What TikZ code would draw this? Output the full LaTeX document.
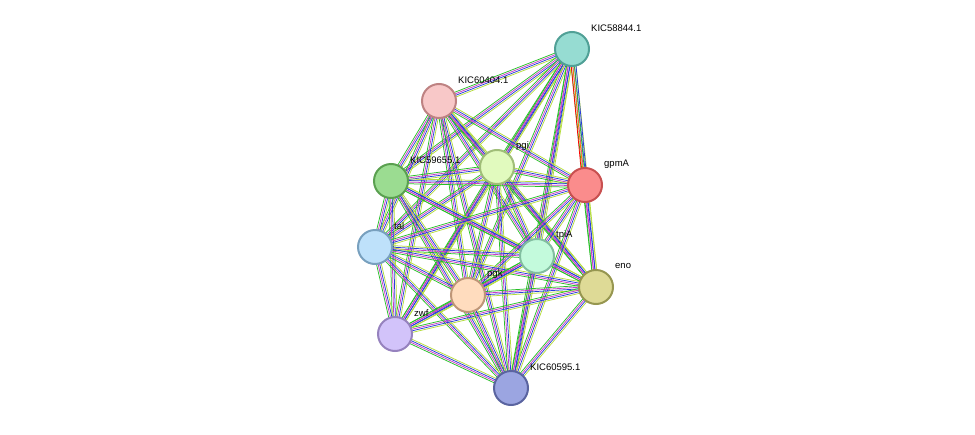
\documentclass[tikz,border=0pt]{standalone}
\usepackage{fontspec}
\setmainfont{Liberation Sans}
\usetikzlibrary{calc,backgrounds}
\definecolor{ygreen}{RGB}{180,220,60}
\definecolor{sgreen}{RGB}{40,190,40}
\definecolor{sblue}{RGB}{40,60,220}
\definecolor{smag}{RGB}{200,60,200}
\definecolor{scyan}{RGB}{60,190,210}
\tikzset{
  prot/.style={circle, minimum size=34pt, line width=2pt, inner sep=0pt},
  lab/.style={font=\fontsize{9.5}{9.5}\selectfont, inner sep=1pt},
  link/.style={line width=0.75pt}
}
\newcommand{\edge}[3]{%
  \foreach \c [count=\i] in {#3}
    \draw[link, \c] ($(#1)!{(\i-2.5)*1.6pt}!90:(#2)$) -- ($(#2)!{(\i-2.5)*1.6pt}!-90:(#1)$);
}
\begin{document}
\begin{tikzpicture}[x=1pt,y=-1pt]
\useasboundingbox (0,0) rectangle (975,434);
% proteins
\node[prot, fill={rgb,255:red,150;green,220;blue,210}, draw={rgb,255:red,80;green,160;blue,150}] (kic58844) at (572,49) {};
\node[prot, fill={rgb,255:red,248;green,200;blue,200}, draw={rgb,255:red,190;green,130;blue,130}] (kic60404) at (439,101) {};
\node[prot, fill={rgb,255:red,225;green,250;blue,190}, draw={rgb,255:red,160;green,190;blue,120}] (pgi) at (497,167) {};
\node[prot, fill={rgb,255:red,155;green,220;blue,145}, draw={rgb,255:red,90;green,160;blue,80}] (kic59655) at (391,181) {};
\node[prot, fill={rgb,255:red,250;green,140;blue,140}, draw={rgb,255:red,200;green,80;blue,80}] (gpmA) at (585,185) {};
\node[prot, fill={rgb,255:red,190;green,225;blue,250}, draw={rgb,255:red,120;green,160;blue,190}] (tal) at (375,247) {};
\node[prot, fill={rgb,255:red,195;green,250;blue,220}, draw={rgb,255:red,130;green,190;blue,160}] (tpiA) at (537,256) {};
\node[prot, fill={rgb,255:red,222;green,218;blue,150}, draw={rgb,255:red,150;green,150;blue,80}] (eno) at (596,287) {};
\node[prot, fill={rgb,255:red,255;green,220;blue,190}, draw={rgb,255:red,190;green,150;blue,120}] (pgk) at (468,295) {};
\node[prot, fill={rgb,255:red,210;green,195;blue,250}, draw={rgb,255:red,150;green,130;blue,190}] (zwf) at (395,334) {};
\node[prot, fill={rgb,255:red,155;green,165;blue,225}, draw={rgb,255:red,90;green,100;blue,160}] (kic60595) at (511,388) {};
% labels
\node[lab, anchor=west] at (590,28) {KIC58844.1};
\node[lab, anchor=west] at (457,80) {KIC60404.1};
\node[lab, anchor=west] at (515,146) {pgi};
\node[lab, anchor=west] at (409,160) {KIC59655.1};
\node[lab, anchor=west] at (603,164) {gpmA};
\node[lab, anchor=west] at (393,226) {tal};
\node[lab, anchor=west] at (555,235) {tpiA};
\node[lab, anchor=west] at (614,266) {eno};
\node[lab, anchor=west] at (486,274) {pgk};
\node[lab, anchor=west] at (413,313) {zwf};
\node[lab, anchor=west] at (529,367) {KIC60595.1};
% links
\begin{scope}[on background layer]
\foreach \a/\b in {kic58844/kic60404,kic58844/pgi,kic58844/kic59655,kic58844/tal,kic58844/tpiA,kic58844/eno,kic58844/pgk,kic58844/zwf,kic58844/kic60595,
  kic60404/pgi,kic60404/kic59655,kic60404/gpmA,kic60404/tal,kic60404/tpiA,kic60404/eno,kic60404/pgk,kic60404/zwf,kic60404/kic60595,
  pgi/kic59655,pgi/gpmA,pgi/tal,pgi/tpiA,pgi/eno,pgi/pgk,pgi/zwf,pgi/kic60595,
  kic59655/gpmA,kic59655/tal,kic59655/tpiA,kic59655/eno,kic59655/pgk,kic59655/zwf,kic59655/kic60595,
  gpmA/tal,gpmA/tpiA,gpmA/eno,gpmA/pgk,gpmA/kic60595,
  tal/tpiA,tal/eno,tal/pgk,tal/zwf,tal/kic60595,
  tpiA/eno,tpiA/pgk,tpiA/zwf,tpiA/kic60595,
  eno/pgk,eno/zwf,eno/kic60595,
  pgk/zwf,pgk/kic60595,zwf/kic60595}
  {\edge{\a}{\b}{sgreen,smag,sblue,ygreen}}
\edge{kic58844}{gpmA}{red,orange,sgreen,sblue}
\end{scope}
\end{tikzpicture}
\end{document}
